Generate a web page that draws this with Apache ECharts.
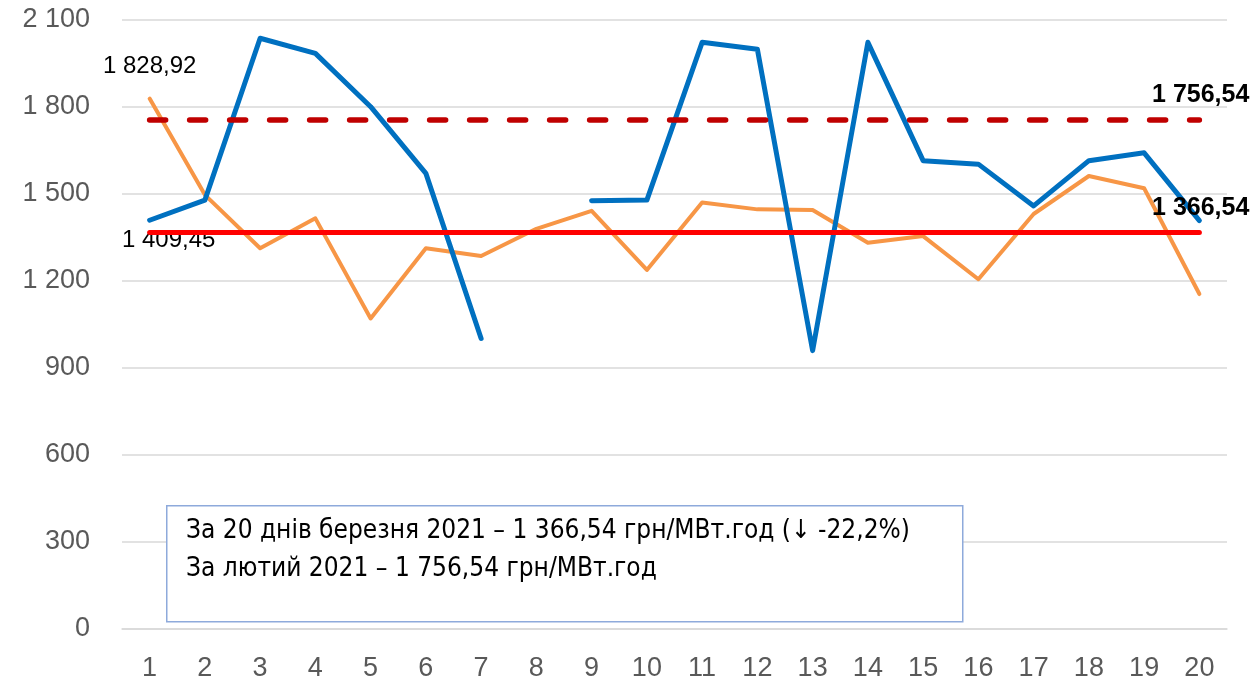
<!DOCTYPE html>
<html>
<head>
<meta charset="UTF-8">
<title>Ціна РДН</title>
<script src="https://cdn.jsdelivr.net/npm/echarts@6/dist/echarts.min.js"></script>
<style>
html,body{margin:0;padding:0;background:#fff;}
#chart{width:1252px;height:685px;}
</style>
</head>
<body>
<div id="chart"></div>
<script>
// дні березня
var days = ['1','2','3','4','5','6','7','8','9','10','11','12','13','14','15','16','17','18','19','20'];
// синя лінія (з пропуском на 8 день)
var blueVals = [1409.45, 1479, 2037, 1985, 1801, 1571, 1002, '-', 1477, 1479, 2023, 1999, 960, 2023, 1615, 1603, 1459, 1615, 1642, 1408];
// помаранчева лінія
var orangeVals = [1828.92, 1497, 1313, 1416, 1071, 1313, 1286, 1380, 1442, 1238, 1471, 1447, 1445, 1332, 1355, 1206, 1431, 1562, 1520, 1155];
var avgMarch = 1366.54;   // за 20 днів березня
var avgFeb = 1756.54;     // за лютий
var yTicks = [0, 300, 600, 900, 1200, 1500, 1800, 2100];
var noteLines = [
  'За 20 днів березня 2021 – 1 366,54 грн/МВт.год (↓ -22,2%)',
  'За лютий 2021 – 1 756,54 грн/МВт.год'
];

function fmt(v){
  var s = Number(v).toFixed(2).split('.');
  var i = s[0].replace(/\B(?=(\d{3})+(?!\d))/g, ' ');
  return i + ',' + s[1];
}
function fmtInt(v){
  return String(v).replace(/\B(?=(\d{3})+(?!\d))/g, ' ');
}

var sans = '"Liberation Sans", Arial, sans-serif';
var narrow = '"Liberation Sans Narrow", "DejaVu Sans Condensed", sans-serif';

// підпис тільки біля першої точки
var blueData = blueVals.map(function(v, i){
  if (i === 0) {
    return {value: v, label: {show: true, position: 'bottom', distance: 8, offset: [19, 0],
      formatter: function(p){ return fmt(p.value); }, fontSize: 24, color: '#000', fontFamily: sans}};
  }
  return v;
});
var orangeData = orangeVals.map(function(v, i){
  if (i === 0) {
    return {value: v, label: {show: true, position: 'top', distance: 20,
      formatter: function(p){ return fmt(p.value); }, fontSize: 24, color: '#000', fontFamily: sans}};
  }
  return v;
});

var myChart = echarts.init(document.getElementById('chart'));
var option = {
  animation: false,
  grid: {left: 122, right: 25, top: 20, bottom: 56},
  xAxis: {
    type: 'category',
    data: days,
    boundaryGap: true,
    axisLine: {show: true, lineStyle: {color: '#d9d9d9', width: 1.5}},
    axisTick: {show: false},
    axisLabel: {color: '#595959', fontSize: 27, fontFamily: sans, margin: 26}
  },
  yAxis: {
    type: 'value',
    min: yTicks[0],
    max: yTicks[yTicks.length - 1],
    interval: 300,
    axisLine: {show: false},
    axisTick: {show: false},
    axisLabel: {color: '#595959', fontSize: 27, fontFamily: sans, margin: 32,
      formatter: function(v){ return fmtInt(v); }},
    splitLine: {lineStyle: {color: '#d9d9d9', width: 1.5}}
  },
  series: [
    {
      name: 'березень',
      type: 'line',
      data: blueData,
      symbol: 'circle',
      symbolSize: 0,
      showSymbol: true,
      connectNulls: false,
      lineStyle: {color: '#0070c0', width: 5, cap: 'round', join: 'round'},
      itemStyle: {color: '#0070c0'},
      z: 4,
      markLine: {
        silent: true,
        symbol: 'none',
        lineStyle: {color: '#ff0000', width: 5, type: 'solid', cap: 'round'},
        label: {show: true, position: 'insideEndTop', distance: [-50, 12],
          formatter: function(p){ return fmt(p.value); },
          fontSize: 25, fontWeight: 'bold', color: '#000', fontFamily: sans},
        data: [[{coord: [days[0], avgMarch], value: avgMarch}, {coord: [days[days.length - 1], avgMarch]}]]
      }
    },
    {
      name: 'лютий',
      type: 'line',
      data: orangeData,
      symbol: 'circle',
      symbolSize: 0,
      showSymbol: true,
      lineStyle: {color: '#f79646', width: 4, cap: 'round', join: 'round'},
      itemStyle: {color: '#f79646'},
      z: 3,
      markLine: {
        silent: true,
        symbol: 'none',
        lineStyle: {color: '#c00000', width: 5.5, type: [16, 24], cap: 'round'},
        label: {show: true, position: 'insideEndTop', distance: [-50, 12],
          formatter: function(p){ return fmt(p.value); },
          fontSize: 25, fontWeight: 'bold', color: '#000', fontFamily: sans},
        data: [[{coord: [days[0], avgFeb], value: avgFeb}, {coord: [days[days.length - 1], avgFeb]}]]
      }
    }
  ],
  graphic: [
    {
      type: 'rect',
      left: 166, top: 505,
      shape: {width: 796, height: 116},
      style: {fill: '#fff', stroke: '#8eaadb', lineWidth: 1.5},
      z: 10
    },
    {
      type: 'text',
      left: 186, top: 518,
      style: {text: noteLines[0], fill: '#000', fontSize: 26, fontFamily: narrow},
      z: 11
    },
    {
      type: 'text',
      left: 186, top: 556,
      style: {text: noteLines[1], fill: '#000', fontSize: 26, fontFamily: narrow},
      z: 11
    }
  ]
};
myChart.setOption(option);
</script>
</body>
</html>
